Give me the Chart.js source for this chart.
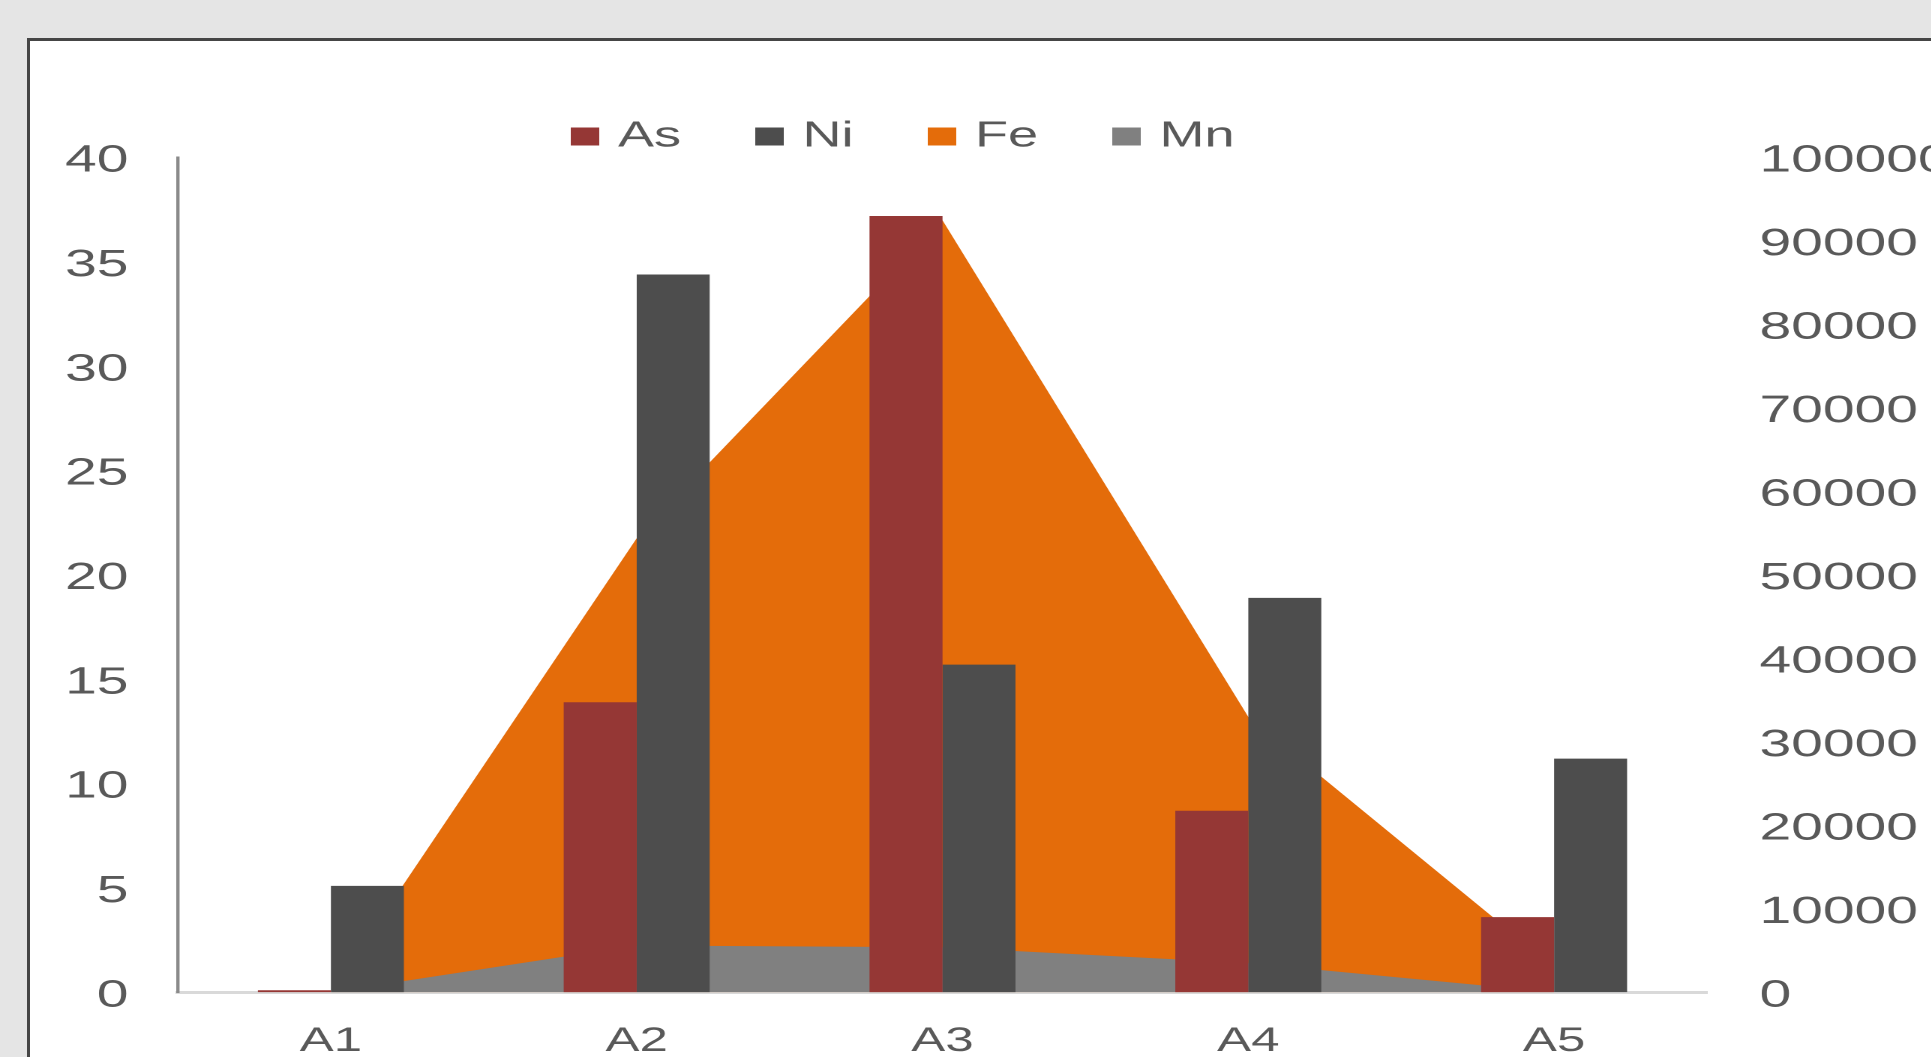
<!DOCTYPE html>
<html>
<head>
<meta charset="utf-8">
<script src="https://cdn.jsdelivr.net/npm/chart.js@4.4.1/dist/chart.umd.min.js"></script>
<style>
html,body{margin:0;padding:0;width:1931px;height:1057px;overflow:hidden;background:#e5e5e5;}
#panel{position:absolute;left:27px;top:38px;width:2000px;height:1100px;background:#ffffff;border-top:3px solid #454545;border-left:3px solid #454545;}
#wrap{position:absolute;left:0;top:0;width:1334px;height:1057px;transform:scaleX(1.5);transform-origin:0 0;}
</style>
</head>
<body>
<div id="panel"></div>
<div id="wrap"><canvas id="c"></canvas></div>
<script>
// ---- data ----
const categories = ['A1', 'A2', 'A3', 'A4', 'A5'];
const asValues = [0.1, 13.9, 37.2, 8.7, 3.6];
const niValues = [5.1, 34.4, 15.7, 18.9, 11.2];
const feValues = [0, 54400, 92500, 33000, 3000];
const mnValues = [0, 5600, 5400, 3500, 0];
const leftAxisMax = 40, leftAxisStep = 5;
const rightAxisMax = 100000, rightAxisStep = 10000;

// ---- layout (internal, unstretched coordinates) ----
const S = 1.5;
const W = 1334, H = 1057;
const AREA_LEFT = 178 / S, AREA_RIGHT = 1707 / S, AREA_TOP = 157.6, AREA_BOTTOM = 992.3;
const LEGEND_X = 386, LEGEND_ROW_Y = 118.7;
const FONT = '"Liberation Sans", Arial, sans-serif';
const TXT = '#595959';

function makeSwatch(color) {
  const cv = document.createElement('canvas');
  cv.width = 19; cv.height = 18;
  const cx = cv.getContext('2d');
  cx.fillStyle = color;
  cx.fillRect(0, 0, 19, 18);
  return cv;
}

const legendPlacer = {
  id: 'legendPlacer',
  afterLayout(chart) {
    const lg = chart.legend;
    if (!lg) return;
    const p = lg.options.labels.padding;
    lg.left = LEGEND_X - p;
    lg.right = W;
    lg.top = LEGEND_ROW_Y - p;
    lg.bottom = lg.top + 160;
    lg.width = lg.right - lg.left;
    lg.height = lg.bottom - lg.top;
  }
};

new Chart(document.getElementById('c'), {
  data: {
    labels: categories,
    datasets: [
      { type: 'bar', label: 'As', data: asValues, backgroundColor: '#953735', borderWidth: 0, yAxisID: 'y', order: 0 },
      { type: 'bar', label: 'Ni', data: niValues, backgroundColor: '#4d4d4d', borderWidth: 0, yAxisID: 'y', order: 0 },
      { type: 'line', label: 'Fe', data: feValues, backgroundColor: '#e46c0a', borderColor: '#e46c0a', borderWidth: 0,
        pointRadius: 0, tension: 0, fill: 'origin', yAxisID: 'y2', order: 2 },
      { type: 'line', label: 'Mn', data: mnValues, backgroundColor: '#808080', borderColor: '#808080', borderWidth: 0,
        pointRadius: 0, tension: 0, fill: 'origin', yAxisID: 'y2', order: 1 }
    ]
  },
  options: {
    responsive: true,
    maintainAspectRatio: false,
    devicePixelRatio: 2,
    animation: false,
    events: [],
    datasets: { bar: { categoryPercentage: 0.4774, barPercentage: 1 } },
    layout: { padding: { top: AREA_TOP - 1, bottom: 0, left: 0, right: 0 } },
    plugins: {
      tooltip: { enabled: false },
      legend: {
        position: 'top',
        align: 'start',
        maxHeight: 1,
        labels: {
          usePointStyle: true,
          boxWidth: 8,
          boxHeight: 18,
          padding: 55,
          color: TXT,
          font: { family: FONT, size: 36 },
          generateLabels: (chart) => chart.data.datasets.map((ds, i) => ({
            text: ds.label,
            fillStyle: ds.backgroundColor,
            strokeStyle: ds.backgroundColor,
            fontColor: TXT,
            lineWidth: 0,
            hidden: false,
            pointStyle: makeSwatch(ds.backgroundColor),
            datasetIndex: i
          }))
        }
      }
    },
    scales: {
      x: {
        type: 'category',
        offset: true,
        grid: { display: false, drawTicks: false },
        border: { display: true, color: '#d9d9d9', width: 3 },
        ticks: { color: TXT, font: { family: FONT, size: 34 }, padding: 29, maxRotation: 0 },
        afterFit: (s) => { s.height = H - AREA_BOTTOM; }
      },
      y: {
        position: 'left',
        min: 0, max: leftAxisMax,
        grid: { display: false, drawTicks: false },
        border: { display: true, color: '#8a8a8a', width: 2.2 },
        ticks: { stepSize: leftAxisStep, color: TXT, font: { family: FONT, size: 38 }, padding: 33,
                 labelOffset: 3.5, callback: (v) => String(v) },
        afterFit: (s) => { s.width = AREA_LEFT; }
      },
      y2: {
        position: 'right',
        min: 0, max: rightAxisMax,
        grid: { display: false, drawTicks: false },
        border: { display: false },
        ticks: { stepSize: rightAxisStep, color: TXT, font: { family: FONT, size: 38 }, padding: 35,
                 labelOffset: 3.5, callback: (v) => String(v) },
        afterFit: (s) => { s.width = W - AREA_RIGHT; }
      }
    }
  },
  plugins: [legendPlacer]
});
</script>
</body>
</html>
